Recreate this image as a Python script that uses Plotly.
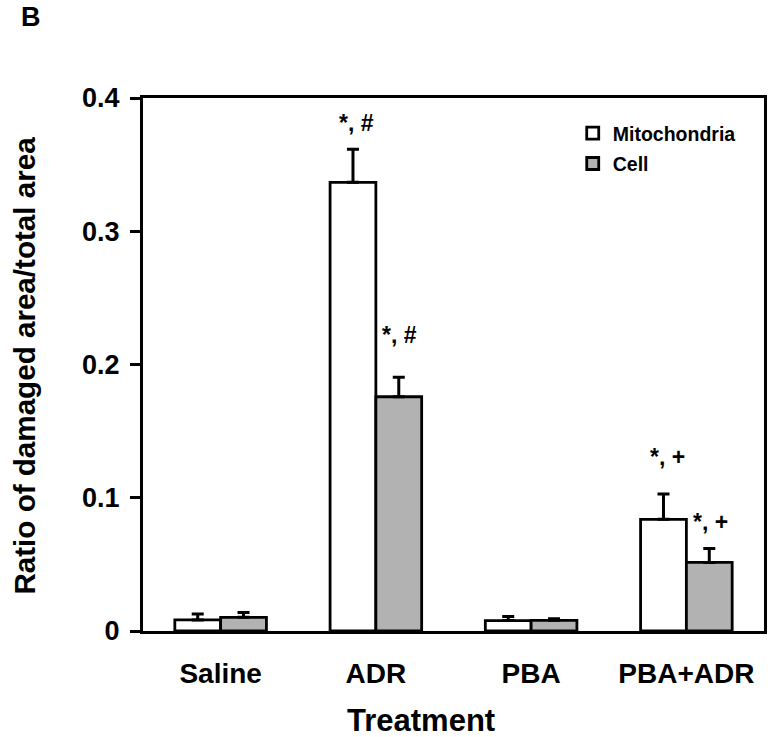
import plotly.graph_objects as go

categories = ["Saline", "ADR", "PBA", "PBA+ADR"]
mito = [0.0083, 0.3367, 0.0078, 0.0838]
mito_err = [0.0045, 0.0248, 0.0030, 0.0190]
cell = [0.0103, 0.1758, 0.0080, 0.0515]
cell_err = [0.0035, 0.0146, 0.0012, 0.0105]
mito_labels = ["", "*, #", "", "*, +"]
mito_label_y = [None, 0.381, None, 0.1306]
cell_labels = ["", "*, #", "", "*, +"]
cell_label_y = [None, 0.222, None, 0.0818]
y_ticks = [0, 0.1, 0.2, 0.3, 0.4]
y_ticktext = ["0", "0.1", "0.2", "0.3", "0.4"]

FONT = "Liberation Sans, Arial, sans-serif"

fig = go.Figure()
fig.add_trace(go.Bar(
    name="Mitochondria", x=categories, y=mito,
    marker=dict(color="white", line=dict(color="black", width=2.8)),
    error_y=dict(type="data", symmetric=False, array=mito_err,
                 arrayminus=[0] * len(mito), color="black", thickness=3, width=6),
    legendgroup="a",
))
fig.add_trace(go.Bar(
    name="Cell", x=categories, y=cell,
    marker=dict(color="#B2B2B2", line=dict(color="black", width=2.8)),
    error_y=dict(type="data", symmetric=False, array=cell_err,
                 arrayminus=[0] * len(cell), color="black", thickness=3, width=6),
    legendgroup="b",
))

annotations = []
for c, t, yv in zip(categories, mito_labels, mito_label_y):
    if t:
        annotations.append(dict(x=c, y=yv, xref="x", yref="y", text=t, showarrow=False,
                                xshift=-19, font=dict(family=FONT, size=23, color="black", weight="bold")))
for c, t, yv in zip(categories, cell_labels, cell_label_y):
    if t:
        annotations.append(dict(x=c, y=yv, xref="x", yref="y", text=t, showarrow=False,
                                xshift=24, font=dict(family=FONT, size=23, color="black", weight="bold")))

annotations.append(dict(x=0.447, y=-0.168, xref="paper", yref="paper", text="Treatment",
                        showarrow=False, yanchor="middle",
                        font=dict(family=FONT, size=31, color="black", weight="bold")))
annotations.append(dict(x=-0.190, y=0.498, xref="paper", yref="paper",
                        text="Ratio of damaged area/total area", textangle=-90,
                        showarrow=False, xanchor="center", yanchor="middle",
                        font=dict(family=FONT, size=29.6, color="black", weight="bold")))
annotations.append(dict(x=-0.1995, y=1.152, xref="paper", yref="paper", text="B",
                        showarrow=False, xanchor="left", yanchor="middle",
                        font=dict(family=FONT, size=27, color="black", weight="bold")))

fig.update_layout(
    width=777, height=737,
    margin=dict(l=143, r=10, t=98, b=106),
    paper_bgcolor="white", plot_bgcolor="white",
    barmode="group", bargap=0.41, bargroupgap=0,
    font=dict(family=FONT, color="black"),
    showlegend=True,
    legend=dict(x=0.692, y=0.970, xanchor="left", yanchor="top",
                bgcolor="rgba(0,0,0,0)", traceorder="grouped", tracegroupgap=2,
                font=dict(family=FONT, size=19.5, color="black", weight="bold")),
    annotations=annotations,
)
fig.update_xaxes(
    type="category", range=[-0.5, 3.5],
    showline=True, linecolor="black", linewidth=3, mirror=True,
    ticks="", showgrid=False, zeroline=False,
    ticklabelstandoff=15,
    tickfont=dict(family=FONT, size=28, color="black", weight="bold"),
)
fig.update_yaxes(
    range=[0, 0.4], tickvals=y_ticks, ticktext=y_ticktext,
    showline=True, linecolor="black", linewidth=3, mirror=True,
    ticks="outside", ticklen=10, tickwidth=3, tickcolor="black",
    showgrid=False, zeroline=False, ticklabelstandoff=5,
    tickfont=dict(family=FONT, size=27, color="black", weight="bold"),
)

# remove the default 8px page margin so the 777x737 figure fills the window exactly
fig.write_html("out.html", config={"displayModeBar": False},
               post_script="document.body.style.margin='0';")
